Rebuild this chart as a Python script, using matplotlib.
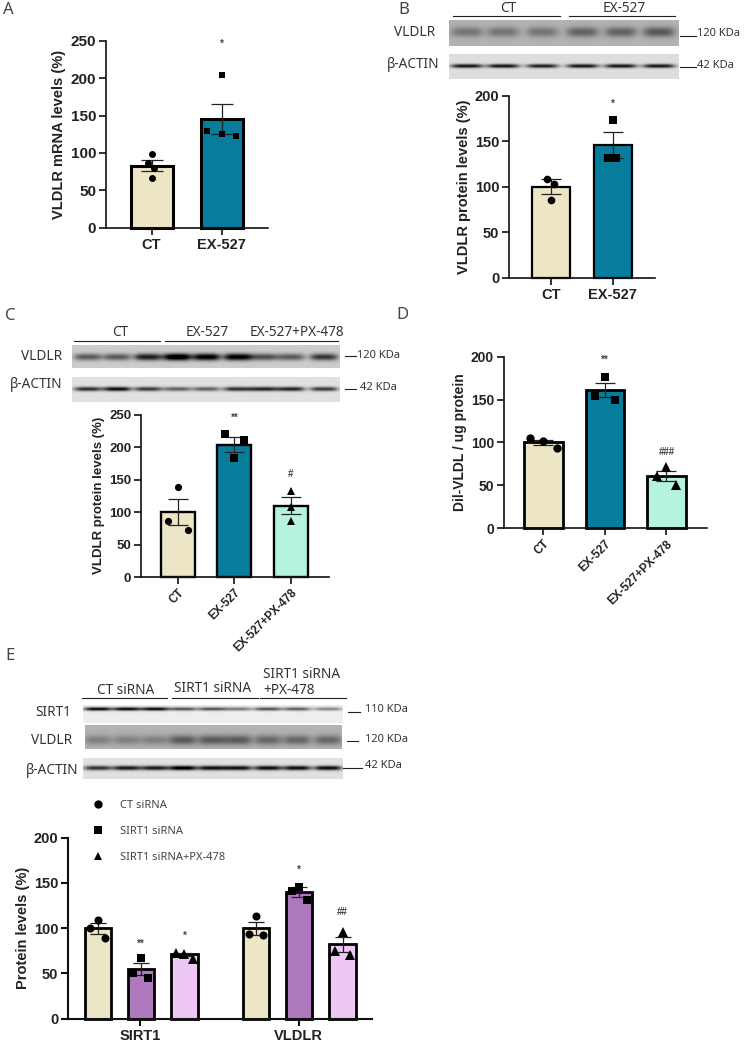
import numpy as np
import matplotlib
matplotlib.use('Agg')
import matplotlib.pyplot as plt
from matplotlib.lines import Line2D

plt.rcParams['font.family'] = ['Liberation Sans', 'DejaVu Sans']

W, H = 744, 1044
BEIGE = '#EDE6C6'
TEAL = '#087D9B'
MINT = '#B4F4DC'
PURPLE = '#AF7ABD'
PINK = '#EEC8F5'

# -------------------- panel values --------------------
a_labels = ['CT', 'EX-527']
a_means = [83, 145]
a_sem = [7, 20]
a_points = [[99, 87, 80, 66], [204, 129, 125, 122]]
a_jitter = [[0, -0.05, 0.04, 0], [0, -0.21, 0, 0.21]]

b_labels = ['CT', 'EX-527']
b_means = [100, 146]
b_sem = [8, 14]
b_points = [[108, 103, 85], [173, 132, 132]]
b_jitter = [[-0.06, 0.05, 0], [0, -0.07, 0.05]]

c_labels = ['CT', 'EX-527', 'EX-527+PX-478']
c_means = [100, 204, 110]
c_sem = [20, 11, 13]
c_points = [[138, 86, 73], [220, 211, 183], [133, 108, 86]]
c_jitter = [[0, -0.17, 0.17], [-0.17, 0.17, 0], [0, 0, 0]]

d_labels = ['CT', 'EX-527', 'EX-527+PX-478']
d_means = [100, 161, 61]
d_sem = [3, 8, 6]
d_points = [[105, 101, 93], [176, 154, 149], [71, 61, 50]]
d_jitter = [[-0.21, 0, 0.22], [0, -0.16, 0.16], [0, -0.16, 0.16]]

e_groups = ['SIRT1', 'VLDLR']
e_legend = ['CT siRNA', 'SIRT1 siRNA', 'SIRT1 siRNA+PX-478']
e_means = [100, 55, 71, 100, 140, 82]
e_sem = [6, 7, 2, 7, 5, 8]
e_points = [[109, 100, 89.5], [67, 51, 44.5], [72.5, 72, 66],
            [113, 94, 93], [145, 141, 131], [96, 75, 70]]
e_jitter = [[0, -0.17, 0.17], [0, -0.18, 0.17], [-0.2, 0, 0.2],
            [0, -0.17, 0.17], [0, -0.17, 0.17], [0, -0.17, 0.17]]

# band darkness per lane, read from the blots
b_vldlr_bands = [.25, .25, .25, .32, .32, .36]
b_actin_bands = [.8, .8, .75, .8, .8, .8]
c_vldlr_bands = [.45, .45, .7, .95, .85, .85, .5, .45, .6]
c_actin_bands = [.7, .85, .65, .5, .5, .7, .75, .75, .65]
e_sirt1_bands = [.9, .9, .9, .6, .6, .45, .6, .55, .4]
e_vldlr_bands = [.2, .2, .2, .35, .35, .35, .3, .3, .3]
e_actin_bands = [.7, .8, .8, .95, .85, .85, .85, .85, .85]

MARKERS = {'c': 'o', 's': 's', 't': '^'}
HEAD = 9.8   # blot labels
KDA = 8


def px_axes(x0, ytop, x1, y0):
    return fig.add_axes([x0 / W, 1 - y0 / H, (x1 - x0) / W, (y0 - ytop) / H])


def ftext(x, y, s, **kw):
    kw.setdefault('family', ['Noto Sans', 'DejaVu Sans'])
    kw.setdefault('fontsize', HEAD)
    kw.setdefault('color', '#333333')
    kw.setdefault('va', 'center')
    fig.text(x / W, 1 - y / H, s, **kw)


def hline(x0, x1, y, lw=0.8):
    fig.add_artist(Line2D([x0 / W, x1 / W], [1 - y / H, 1 - y / H], color='#222222', lw=lw))


def blot(x0, y0, x1, y1, lanes, strengths, band_y, bg, sy, lane_w=14):
    # simple picture of a gel strip: grey background, soft dark bands
    ax = px_axes(x0, y0, x1, y1)
    xs = np.arange(x0, x1) + 0.5
    ys = np.arange(y0, y1) + 0.5
    X, Y = np.meshgrid(xs, ys)
    img = np.full(X.shape, float(bg))
    for cx, s in zip(lanes, strengths):
        prof = np.exp(-((X - cx) / lane_w) ** 4) * np.exp(-((Y - band_y) / sy) ** 2)
        img -= s * prof
    ax.imshow(np.clip(img, 0, 1), cmap='gray', vmin=0, vmax=1, aspect='auto',
              interpolation='bilinear')
    ax.axis('off')


def bars(ax, pos, means, sem, points, jitter, colors, markers, ms, elw, cap, blw, width):
    ax.bar(pos, means, width=width, color=colors, edgecolor='black', linewidth=blw, zorder=2, clip_on=False)
    ax.errorbar(pos, means, yerr=sem, fmt='none', ecolor='#222222', elinewidth=elw,
                capsize=cap, capthick=elw, zorder=3)
    for p, vals, jit, m in zip(pos, points, jitter, markers):
        size = ms * 1.2 if m == 't' else ms
        ax.plot([p + j for j in jit], vals, ls='none', marker=MARKERS[m], ms=size, color='black',
                mew=0, zorder=4, clip_on=False)


def style(ax, yticks, ylabel, yts, xts, ls, slw=1.2):
    for s in ['top', 'right']:
        ax.spines[s].set_visible(False)
    for s in ['left', 'bottom']:
        ax.spines[s].set_linewidth(slw)
        ax.spines[s].set_color('#111111')
        ax.spines[s].set_zorder(5)
    ax.set_yticks(yticks)
    ax.tick_params(axis='both', length=5.2, width=slw, pad=2, color='#111111', labelcolor='#222222')
    ax.tick_params(axis='y', labelsize=yts)
    ax.tick_params(axis='x', labelsize=xts)
    for t in ax.get_yticklabels() + ax.get_xticklabels():
        t.set_fontweight('bold')
    ax.set_ylabel(ylabel, fontweight='bold', fontsize=ls, color='#222222', labelpad=3)


def stars(ax, xs, ys, marks, size=7):
    for x, y, m in zip(xs, ys, marks):
        ax.text(x, y, m, ha='center', va='center', fontsize=size, color='#444444', fontweight='bold', zorder=6)


fig = plt.figure(figsize=(W / 100, H / 100), dpi=100)

# panel letters
for letter, x, y in [('A', 3, 10), ('B', 398, 10), ('C', 5, 316), ('D', 396, 315), ('E', 5, 656)]:
    ftext(x, y, letter, fontsize=12, color='#444444')

# -------------------- A --------------------
ax = px_axes(106, 40.7, 268, 227.7)
bars(ax, [0, 1], a_means, a_sem, a_points, a_jitter, [BEIGE, TEAL], 'cs', 5, 0.9, 8, 2.2, 0.6)
ax.set_xlim(-0.65, 1.66)
ax.set_ylim(0, 250)
ax.set_xticks([0, 1], a_labels)
style(ax, [0, 50, 100, 150, 200, 250], 'VLDLR mRNA levels (%)', 11, 10.5, 10.5)
stars(ax, [1], [246], ['*'])

# -------------------- B --------------------
hline(453, 560, 15.7)
hline(569, 675, 15.7)
ftext(508, 8, 'CT', ha='center')
ftext(624, 8, 'EX-527', ha='center')
b_lanes = [467, 503, 542, 582, 620, 658]
blot(449, 20, 678, 46, b_lanes, b_vldlr_bands, 32, 0.7, 5, lane_w=16)
blot(449, 54, 678, 79, b_lanes, b_actin_bands, 66, 0.87, 2, lane_w=16)
ftext(415, 33, 'VLDLR', ha='center')
ftext(413, 65, 'β-ACTIN', ha='center')
hline(680, 696, 36)
hline(680, 696, 67)
ftext(697, 34, '120 KDa', fontsize=KDA)
ftext(697, 65, '42 KDa', fontsize=KDA)

ax = px_axes(509.3, 95.7, 654.7, 277.7)
bars(ax, [0, 1], b_means, b_sem, b_points, b_jitter, [BEIGE, TEAL], 'cs', 5.5, 0.9, 7, 1.6, 0.62)
ax.set_xlim(-0.68, 1.68)
ax.set_ylim(0, 200)
ax.set_xticks([0, 1], b_labels)
style(ax, [0, 50, 100, 150, 200], 'VLDLR protein levels (%)', 10.5, 10.5, 10.5)
stars(ax, [1], [191.6], ['*'])

# -------------------- C --------------------
hline(74, 160, 340.7)
hline(165, 251, 340.7)
hline(252, 338, 340.7)
ftext(120, 332, 'CT', ha='center')
ftext(207, 332, 'EX-527', ha='center')
ftext(297, 332, 'EX-527+PX-478', ha='center')
c_lanes = [88, 117, 148, 177, 206, 237, 263, 290, 323]
blot(72, 345, 339, 368, c_lanes, c_vldlr_bands, 357, 0.8, 3.5)
blot(72, 377, 339, 402, c_lanes, c_actin_bands, 389, 0.88, 2.2)
ftext(42, 357, 'VLDLR', ha='center')
ftext(36, 385, 'β-ACTIN', ha='center')
hline(345, 356, 356)
hline(345, 356, 389)
ftext(357, 355, '120 KDa', fontsize=KDA)
ftext(360, 387, '42 KDa', fontsize=KDA)

ax = px_axes(141.3, 414.7, 329, 577)
bars(ax, [0, 1, 2], c_means, c_sem, c_points, c_jitter, [BEIGE, TEAL, MINT], 'cst', 5.2, 0.9, 7, 1.7, 0.6)
ax.set_xlim(-0.65, 2.68)
ax.set_ylim(0, 250)
ax.set_xticks([0, 1, 2], c_labels, rotation=45, ha='right', rotation_mode='anchor')
style(ax, [0, 50, 100, 150, 200, 250], 'VLDLR protein levels (%)', 9.5, 8.3, 9.5)
stars(ax, [1, 2], [245, 159], ['**', '#'])

# -------------------- D --------------------
ax = px_axes(504, 356.7, 707, 528)
bars(ax, [0, 1, 2], d_means, d_sem, d_points, d_jitter, [BEIGE, TEAL, MINT], 'cst', 6, 0.9, 7, 2, 0.63)
ax.set_xlim(-0.64, 2.66)
ax.set_ylim(0, 200)
ax.set_xticks([0, 1, 2], d_labels, rotation=45, ha='right', rotation_mode='anchor')
style(ax, [0, 50, 100, 150, 200], 'Dil-VLDL / ug protein', 10, 8.5, 10)
stars(ax, [1, 2], [196, 89], ['**', '###'])

# -------------------- E --------------------
hline(82, 167, 698)
hline(172, 258, 698)
hline(260, 346, 698)
ftext(126, 690, 'CT siRNA', ha='center')
ftext(213, 688, 'SIRT1 siRNA', ha='center')
ftext(263, 675, 'SIRT1 siRNA')
ftext(263, 690, '+PX-478')
e_lanes = [98, 127, 155, 183, 212, 238, 268, 297, 328]
blot(83, 705, 343, 723, e_lanes, e_sirt1_bands, 709, 0.93, 1.8)
blot(85, 725, 342, 749, e_lanes, e_vldlr_bands, 740, 0.7, 5)
blot(83, 758, 343, 779, e_lanes, e_actin_bands, 768, 0.88, 2.3)
ftext(53, 712, 'SIRT1', ha='center')
ftext(52, 740, 'VLDLR', ha='center')
ftext(52, 770, 'β-ACTIN', ha='center')
hline(348, 360, 712)
hline(347, 358, 741)
hline(343, 362, 768)
ftext(365, 710, '110 KDa', fontsize=KDA)
ftext(365, 739, '120 KDa', fontsize=KDA)
ftext(365, 766, '42 KDa', fontsize=KDA)

ax = px_axes(68.3, 837.7, 372, 1018.7)
e_pos = [0, 1, 2, 3.65, 4.65, 5.65]
e_colors = [BEIGE, PURPLE, PINK, BEIGE, PURPLE, PINK]
bars(ax, e_pos, e_means, e_sem, e_points, e_jitter, e_colors, 'cstcst', 5.8, 0.9, 5.5, 2, 0.61)
ax.set_xlim(-0.68, 6.33)
ax.set_ylim(0, 200)
ax.set_xticks([0.97, 4.64], e_groups)
style(ax, [0, 50, 100, 150, 200], 'Protein levels (%)', 10.5, 10.5, 10.5, slw=1.5)
stars(ax, [1, 2, 4.65, 5.65], [82.5, 92, 164, 118], ['**', '*', '*', '##'])

handles = [Line2D([], [], ls='none', marker=MARKERS[m], color='black', ms=6, mew=0) for m in 'cst']
leg = fig.legend(handles, e_legend, loc='upper left', bbox_to_anchor=(87 / W, 1 - 800 / H),
                 frameon=False, fontsize=8, labelspacing=1.35, handletextpad=1.0,
                 borderpad=0, borderaxespad=0, labelcolor='#444444')
for t in leg.get_texts():
    t.set_fontfamily(['Noto Sans', 'DejaVu Sans'])

fig.savefig('out.png', dpi=100)
